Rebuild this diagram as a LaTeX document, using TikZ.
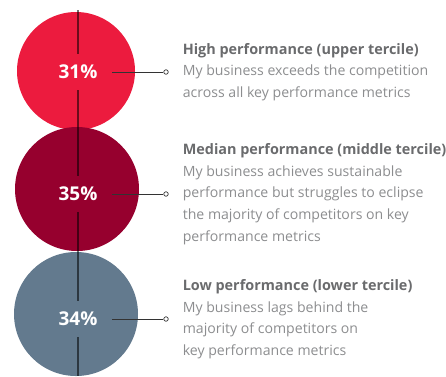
\documentclass[tikz,border=0pt]{standalone}
\usepackage{fontspec}
\setmainfont{Open Sans}
\usetikzlibrary{positioning}
\definecolor{hired}{HTML}{EC1B3E}
\definecolor{midred}{HTML}{96002E}
\definecolor{lowslate}{HTML}{637A8E}
\definecolor{titlegray}{HTML}{6A6B6D}
\definecolor{bodygray}{HTML}{8C8D8F}

\begin{document}
\begin{tikzpicture}[x=1pt,y=-1pt]
\tikzset{disc/.style = {shape=circle,minimum size=#1,inner sep=0pt}}
\tikzset{pct/.style = {text=white,font=\fontsize{19}{19}\selectfont\bfseries,minimum width=68pt,minimum height=36pt,inner sep=0pt}}
\tikzset{dot/.style = {shape=circle,draw=black!80,fill=white,line width=0.7pt,inner sep=0pt,minimum size=4.5pt}}
\tikzset{edge/.style = {draw=black!80,line width=1pt}}
\tikzset{stem/.style = {draw=black,draw opacity=0.55,line width=1.2pt}}
\tikzset{desc/.style = {align=left,inner sep=0pt,text=bodygray,font=\fontsize{14.1}{21.6}\selectfont}}
\newcommand{\headline}[1]{{\color{titlegray}\fontsize{14.4}{21.6}\selectfont\bfseries #1}}

\useasboundingbox (0,0) rectangle (446,376);

%circles
\node[disc=118pt,fill=hired] (c1) at (76,71) {};
\node[disc=124pt,fill=midred] (c2) at (77,189) {};
\node[disc=124pt,fill=lowslate] (c3) at (76,314) {};

%percentages
\node[pct] (p1) at (78,72) {31\%};
\node[pct] (p2) at (78,194) {35\%};
\node[pct] (p3) at (78,319) {34\%};

%dots
\node[dot] (d1) at (166,72) {};
\node[dot] (d2) at (166,194) {};
\node[dot] (d3) at (166,319) {};

%texts
\node[desc, right=14pt of d1] (t1) {\headline{High performance (upper tercile)}\\
  My business exceeds the competition\\
  across all key performance metrics};
\node[desc, right=14pt of d2] (t2) {\headline{Median performance (middle tercile)}\\
  My business achieves sustainable\\
  performance but struggles to eclipse\\
  the majority of competitors on key\\
  performance metrics};
\node[desc, right=14pt of d3] (t3) {\headline{Low performance (lower tercile)}\\
  My business lags behind the\\
  majority of competitors on\\
  key performance metrics};

%edges
\coordinate (top) at (78,10);
\coordinate (bottom) at (78,376);
\draw[stem] (top) -- (p1.north);
\draw[stem] (p1.south) -- (p2.north);
\draw[stem] (p2.south) -- (p3.north);
\draw[stem] (p3.south) -- (bottom);
\draw[edge] (p1.east) -- (d1);
\draw[edge] (p2.east) -- (d2);
\draw[edge] (p3.east) -- (d3);

\end{tikzpicture}
\end{document}
